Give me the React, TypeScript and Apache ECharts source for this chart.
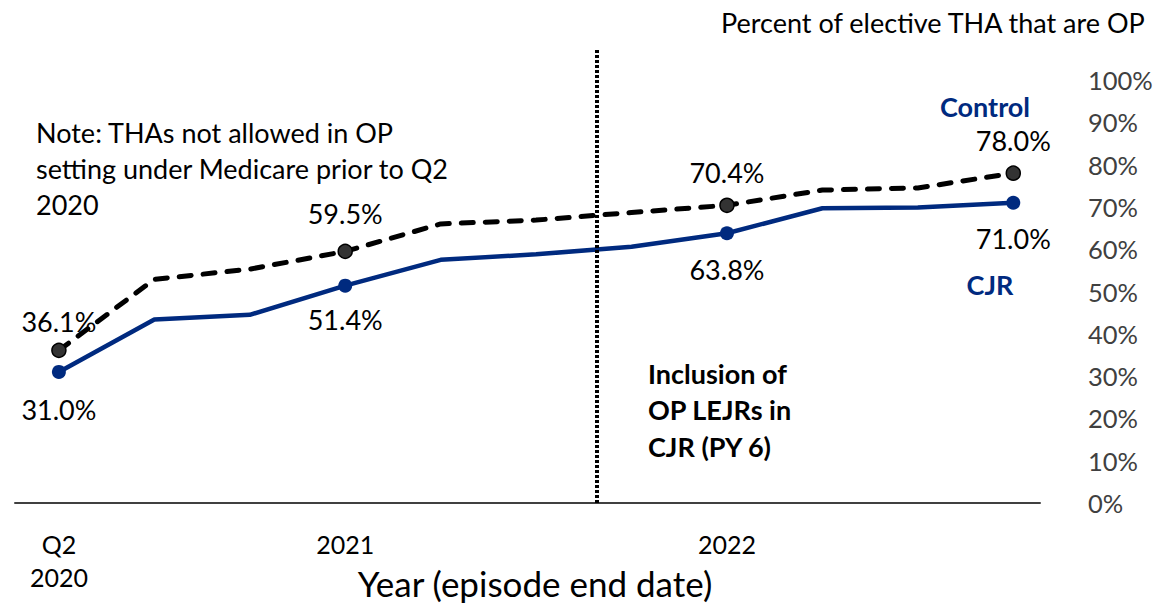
import React, { useEffect, useRef } from "react";
import * as echarts from "echarts";

// Quarters from Q2 2020 to Q4 2022
const quarters = ["Q2 2020", "Q3 2020", "Q4 2020", "Q1 2021", "Q2 2021", "Q3 2021", "Q4 2021", "Q1 2022", "Q2 2022", "Q3 2022", "Q4 2022"];
const controlValues = [36.1, 52.9, 55.3, 59.5, 66.0, 66.9, 68.7, 70.4, 74.0, 74.5, 78.0];
const cjrValues = [31.0, 43.4, 44.5, 51.4, 57.5, 58.8, 60.6, 63.8, 69.7, 69.9, 71.0];
// Quarters that carry a marker and a value label
const labelledIdx = [0, 3, 7, 10];
// Axis tick labels (quarter index -> text)
const xTickIdx = [0, 3, 7];
const xTickLabels = ["Q2\n2020", "2021", "2022"];
const yTicks = [0, 10, 20, 30, 40, 50, 60, 70, 80, 90, 100];
// Position of the PY 6 policy change (between Q3 and Q4 2021)
const policyX = 5.64;

const FONT = "Lato, 'Open Sans', sans-serif";
const NAVY = "#002A7F";
const Y_MAX = 107.6;

// label gaps for the marked points, in the order of labelledIdx
const controlLabelGap = [8, 17, 12, 11];
const cjrLabelGap = [17.5, 13.5, 15.5, 15.5];

export default function App() {
  const ref = useRef<HTMLDivElement>(null);

  useEffect(() => {
    if (!ref.current) return;
    const chart = echarts.init(ref.current, null, { renderer: "svg" });

    const controlData = controlValues.map((v, i) => {
      const k = labelledIdx.indexOf(i);
      return {
        value: [i, v],
        symbol: k >= 0 ? "circle" : "none",
        label: {
          show: k >= 0,
          position: "top",
          distance: k >= 0 ? controlLabelGap[k] : 0,
          formatter: () => v.toFixed(1) + "%",
        },
      };
    });
    const cjrData = cjrValues.map((v, i) => {
      const k = labelledIdx.indexOf(i);
      return {
        value: [i, v],
        symbol: k >= 0 ? "circle" : "none",
        label: {
          show: k >= 0,
          position: "bottom",
          distance: k >= 0 ? cjrLabelGap[k] : 0,
          formatter: () => v.toFixed(1) + "%",
        },
      };
    });

    chart.setOption({
      animation: false,
      textStyle: { fontFamily: FONT },
      grid: { left: 15, right: 117, top: 48, bottom: 100 },
      xAxis: {
        type: "value",
        min: -0.46,
        max: 10.28,
        splitLine: { show: false },
        axisLine: { show: true, lineStyle: { color: "#404040", width: 2 } },
        axisTick: { show: false },
        axisLabel: {
          customValues: xTickIdx,
          formatter: (v: number) => xTickLabels[xTickIdx.indexOf(Math.round(v))] ?? "",
          color: "#000",
          fontSize: 25,
          lineHeight: 33,
          margin: 24,
          fontFamily: FONT,
        },
      },
      yAxis: {
        type: "value",
        position: "right",
        min: 0,
        max: Y_MAX,
        interval: 10,
        splitLine: { show: false },
        axisLine: { show: false },
        axisTick: { show: false },
        axisLabel: {
          customValues: yTicks,
          formatter: (v: number) => (yTicks.includes(Math.round(v)) && Math.abs(v - Math.round(v)) < 1e-6 ? v + "%" : ""),
          color: "#404040",
          fontSize: 25.5,
          margin: 48,
          fontFamily: FONT,
        },
      },
      series: [
        {
          name: "Control",
          type: "line",
          clip: false,
          data: controlData,
          showAllSymbol: true,
          symbolSize: 14,
          itemStyle: { color: "#333333", borderColor: "#000", borderWidth: 1.5 },
          lineStyle: { color: "#000", width: 5, type: [12, 12], cap: "round" },
          label: { color: "#000", fontSize: 27, fontFamily: FONT },
          z: 3,
          markLine: {
            silent: true,
            symbol: "none",
            label: { show: false },
            lineStyle: { color: "#000", width: 4, type: [3, 2] },
            data: [[{ coord: [policyX, 0] }, { coord: [policyX, Y_MAX] }]],
          },
        },
        {
          name: "CJR",
          type: "line",
          data: cjrData,
          showAllSymbol: true,
          symbolSize: 14,
          itemStyle: { color: NAVY },
          lineStyle: { color: NAVY, width: 4.5 },
          label: { color: "#000", fontSize: 27, fontFamily: FONT },
          z: 2,
        },
      ],
      graphic: [
        {
          type: "text",
          right: 10,
          top: 9,
          style: { text: "Percent of elective THA that are OP", fontSize: 27, fill: "#000", fontFamily: FONT },
        },
        {
          type: "text",
          left: 36,
          top: 114,
          style: {
            text: "Note: THAs not allowed in OP\nsetting under Medicare prior to Q2\n2020",
            fontSize: 27,
            lineHeight: 36,
            fill: "#000",
            fontFamily: FONT,
          },
        },
        {
          type: "text",
          left: 648,
          top: 355,
          style: {
            text: "Inclusion of\nOP LEJRs in\nCJR (PY 6)",
            fontSize: 27,
            fontWeight: "bold",
            lineHeight: 36.5,
            fill: "#000",
            fontFamily: FONT,
          },
        },
        {
          type: "text",
          x: 985,
          y: 106,
          style: { text: "Control", fontSize: 27, fontWeight: "bold", fill: NAVY, align: "center", verticalAlign: "middle", fontFamily: FONT },
        },
        {
          type: "text",
          x: 990,
          y: 284,
          style: { text: "CJR", fontSize: 27, fontWeight: "bold", fill: NAVY, align: "center", verticalAlign: "middle", fontFamily: FONT },
        },
        {
          type: "text",
          x: 535,
          y: 583,
          style: { text: "Year (episode end date)", fontSize: 35, fill: "#000", align: "center", verticalAlign: "middle", fontFamily: FONT },
        },
      ],
    });

    return () => chart.dispose();
  }, []);

  return (
    <div
      ref={ref}
      style={{ position: "fixed", left: 0, top: 0, width: 1157, height: 603, background: "#fff" }}
    />
  );
}
